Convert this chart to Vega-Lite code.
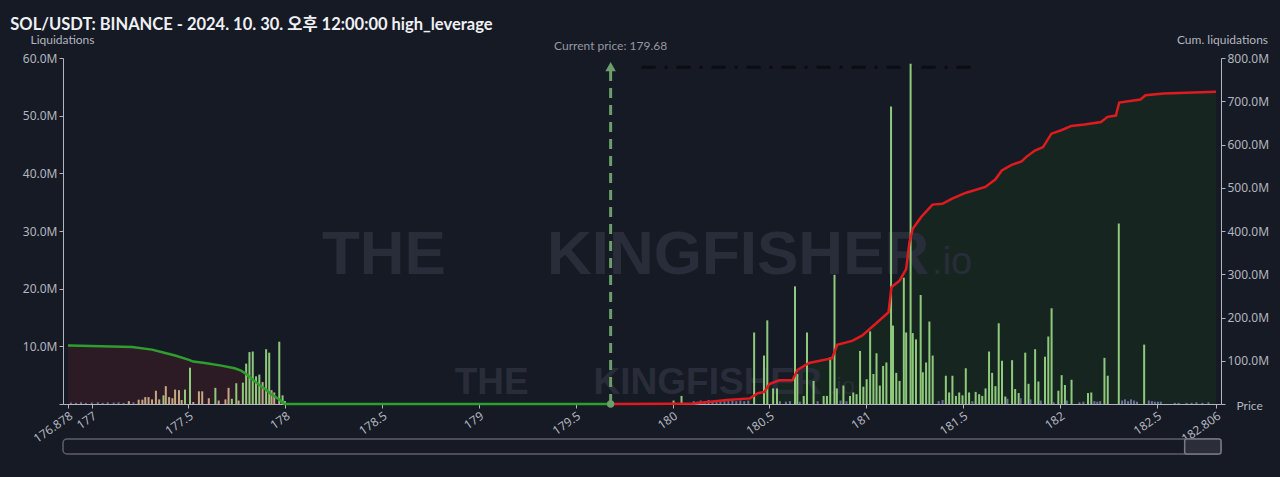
{
  "$schema": "https://vega.github.io/schema/vega-lite/v6.json",
  "background": "#161a25",
  "padding": {"left": 10, "top": 16, "right": 11, "bottom": 22},
  "title": {
    "text": "SOL/USDT: BINANCE - 2024. 10. 30. 오후 12:00:00 high_leverage",
    "anchor": "start", "frame": "bounds", "dx": -12, "offset": 0,
    "fontSize": 16.5, "fontWeight": "bold", "color": "#eef0f4",
    "font": "Lato, Noto Sans CJK KR"
  },
  "config": {
    "view": {"stroke": null},
    "font": "Noto Sans",
    "axis": {
      "domainColor": "#b2b5be", "tickColor": "#b2b5be", "labelColor": "#b2b5be", "titleColor": "#b2b5be",
      "labelFont": "Noto Sans", "titleFont": "Lato", "labelFontSize": 12, "titleFontSize": 12,
      "titleFontWeight": "normal", "grid": false, "tickSize": 4
    }
  },
  "datasets": {
    "wmBig": [{"p":178.189,"y":22.5,"t":"THE"},{"p":179.351,"y":22.5,"t":"KINGFISHER"}],
    "wmBigIo": [{"p":181.34,"y":22.5,"t":".io"}],
    "wmSmall": [{"p":178.875,"y":1.8,"t":"THE"},{"p":179.592,"y":1.8,"t":"KINGFISHER"}],
    "wmSmallIo": [{"p":180.81,"y":1.8,"t":".io"}],
    "darkDash": [{"p":179.84,"p2":181.58,"y":58.4}],
    "price": [{"p":179.68,"lo":0,"hi":772,"tip":780,"top":800,"t":"Current price: 179.68"}],
    "bars": [
      {"p":176.893,"v":0.25,"g":"P"},{"p":176.919,"v":0.2,"g":"P"},{"p":176.945,"v":0.3,"g":"P"},{"p":176.970,"v":0.2,"g":"P"},
      {"p":177.001,"v":0.25,"g":"P"},{"p":177.032,"v":0.3,"g":"P"},{"p":177.057,"v":0.2,"g":"P"},{"p":177.083,"v":0.3,"g":"P"},
      {"p":177.114,"v":0.25,"g":"P"},{"p":177.139,"v":0.3,"g":"P"},{"p":177.165,"v":0.2,"g":"P"},
      {"p":177.192,"v":0.5,"g":"T"},{"p":177.216,"v":0.3,"g":"P"},{"p":177.243,"v":0.75,"g":"T"},{"p":177.262,"v":0.75,"g":"T"},
      {"p":177.277,"v":1.2,"g":"T"},{"p":177.294,"v":1.2,"g":"T"},{"p":177.312,"v":0.8,"g":"T"},{"p":177.332,"v":2.3,"g":"T"},
      {"p":177.349,"v":0.8,"g":"T"},{"p":177.371,"v":1.5,"g":"G"},{"p":177.383,"v":3.1,"g":"T"},{"p":177.400,"v":1.2,"g":"T"},
      {"p":177.417,"v":1.0,"g":"T"},{"p":177.431,"v":2.5,"g":"T"},{"p":177.451,"v":2.4,"g":"T"},{"p":177.465,"v":0.7,"g":"T"},
      {"p":177.482,"v":2.5,"g":"G"},{"p":177.508,"v":6.3,"g":"G"},{"p":177.525,"v":0.35,"g":"T"},{"p":177.554,"v":2.2,"g":"T"},
      {"p":177.571,"v":2.2,"g":"T"},{"p":177.605,"v":1.0,"g":"T"},{"p":177.639,"v":2.8,"g":"G"},{"p":177.656,"v":0.6,"g":"T"},
      {"p":177.691,"v":0.8,"g":"T"},{"p":177.707,"v":2.8,"g":"T"},{"p":177.724,"v":0.9,"g":"G"},{"p":177.747,"v":3.6,"g":"G"},
      {"p":177.759,"v":0.6,"g":"T"},{"p":177.781,"v":3.7,"g":"G"},{"p":177.798,"v":7.0,"g":"G"},{"p":177.815,"v":9.0,"g":"G"},
      {"p":177.832,"v":9.1,"g":"G"},{"p":177.849,"v":4.8,"g":"G"},{"p":177.866,"v":5.1,"g":"G"},{"p":177.883,"v":3.8,"g":"T"},
      {"p":177.901,"v":9.5,"g":"G"},{"p":177.917,"v":8.9,"g":"G"},{"p":177.929,"v":2.4,"g":"T"},{"p":177.943,"v":2.0,"g":"T"},
      {"p":177.969,"v":10.8,"g":"G"},{"p":177.986,"v":1.5,"g":"G"},{"p":177.998,"v":0.5,"g":"G"},
      {"p":180.005,"v":0.6,"g":"G"},{"p":180.046,"v":1.4,"g":"G"},
      {"p":180.109,"v":0.5,"g":"P"},{"p":180.129,"v":0.4,"g":"P"},{"p":180.145,"v":0.6,"g":"P"},{"p":180.165,"v":0.5,"g":"P"},
      {"p":180.186,"v":0.7,"g":"P"},{"p":180.206,"v":0.5,"g":"P"},{"p":180.227,"v":0.6,"g":"P"},{"p":180.247,"v":0.4,"g":"P"},
      {"p":180.268,"v":0.6,"g":"P"},{"p":180.288,"v":0.5,"g":"P"},{"p":180.309,"v":0.7,"g":"P"},{"p":180.329,"v":0.5,"g":"P"},
      {"p":180.350,"v":0.6,"g":"P"},{"p":180.370,"v":0.5,"g":"P"},{"p":180.391,"v":0.6,"g":"P"},
      {"p":180.421,"v":12.4,"g":"G"},{"p":180.472,"v":8.4,"g":"G"},{"p":180.489,"v":14.5,"g":"G"},{"p":180.519,"v":2.7,"g":"G"},
      {"p":180.539,"v":2.7,"g":"G"},{"p":180.554,"v":0.5,"g":"P"},{"p":180.585,"v":0.4,"g":"P"},{"p":180.606,"v":0.5,"g":"P"},
      {"p":180.632,"v":20.4,"g":"G"},{"p":180.644,"v":5.2,"g":"G"},{"p":180.657,"v":0.4,"g":"P"},{"p":180.677,"v":1.4,"g":"G"},
      {"p":180.694,"v":12.4,"g":"G"},{"p":180.728,"v":4.0,"g":"G"},{"p":180.749,"v":0.5,"g":"P"},{"p":180.780,"v":1.4,"g":"G"},
      {"p":180.797,"v":1.4,"g":"G"},{"p":180.814,"v":8.1,"g":"G"},{"p":180.836,"v":22.4,"g":"G"},{"p":180.848,"v":2.7,"g":"G"},
      {"p":180.867,"v":0.6,"g":"P"},{"p":180.882,"v":3.2,"g":"G"},{"p":180.898,"v":0.5,"g":"P"},{"p":180.916,"v":1.4,"g":"G"},
      {"p":180.933,"v":2.0,"g":"G"},{"p":180.950,"v":1.7,"g":"G"},{"p":180.968,"v":9.2,"g":"G"},{"p":180.985,"v":3.0,"g":"G"},
      {"p":181.002,"v":4.3,"g":"G"},{"p":181.020,"v":12.6,"g":"G"},{"p":181.037,"v":5.2,"g":"G"},{"p":181.053,"v":8.8,"g":"G"},
      {"p":181.070,"v":3.2,"g":"G"},{"p":181.087,"v":6.6,"g":"G"},{"p":181.104,"v":7.2,"g":"G"},{"p":181.128,"v":51.6,"g":"G"},
      {"p":181.138,"v":13.6,"g":"G"},{"p":181.155,"v":5.4,"g":"G"},{"p":181.172,"v":4.0,"g":"G"},{"p":181.194,"v":21.9,"g":"G"},
      {"p":181.206,"v":12.4,"g":"G"},{"p":181.229,"v":59.0,"g":"G"},{"p":181.240,"v":12.3,"g":"G"},{"p":181.257,"v":11.2,"g":"G"},
      {"p":181.281,"v":18.9,"g":"G"},{"p":181.292,"v":5.5,"g":"G"},{"p":181.309,"v":7.2,"g":"G"},{"p":181.326,"v":14.3,"g":"G"},
      {"p":181.343,"v":8.4,"g":"G"},{"p":181.374,"v":0.5,"g":"P"},{"p":181.394,"v":0.7,"g":"P"},{"p":181.411,"v":4.9,"g":"G"},
      {"p":181.428,"v":2.0,"g":"G"},{"p":181.445,"v":4.9,"g":"G"},{"p":181.463,"v":1.4,"g":"G"},{"p":181.480,"v":2.0,"g":"G"},
      {"p":181.497,"v":1.5,"g":"G"},{"p":181.514,"v":6.2,"g":"G"},{"p":181.531,"v":2.0,"g":"G"},{"p":181.548,"v":0.5,"g":"P"},
      {"p":181.565,"v":2.1,"g":"G"},{"p":181.583,"v":1.7,"g":"G"},{"p":181.599,"v":1.4,"g":"G"},{"p":181.616,"v":2.7,"g":"G"},
      {"p":181.634,"v":9.1,"g":"G"},{"p":181.650,"v":5.4,"g":"G"},{"p":181.667,"v":3.1,"g":"G"},{"p":181.684,"v":14.0,"g":"G"},
      {"p":181.701,"v":7.5,"g":"G"},{"p":181.718,"v":1.3,"g":"G"},{"p":181.729,"v":0.9,"g":"P"},{"p":181.753,"v":7.6,"g":"G"},
      {"p":181.769,"v":2.6,"g":"G"},{"p":181.787,"v":1.9,"g":"G"},{"p":181.797,"v":1.0,"g":"P"},{"p":181.821,"v":8.9,"g":"G"},
      {"p":181.838,"v":3.5,"g":"G"},{"p":181.848,"v":0.8,"g":"P"},{"p":181.872,"v":9.5,"g":"G"},{"p":181.889,"v":3.9,"g":"G"},
      {"p":181.901,"v":0.6,"g":"P"},{"p":181.923,"v":8.2,"g":"G"},{"p":181.940,"v":11.7,"g":"G"},{"p":181.957,"v":16.6,"g":"G"},
      {"p":181.968,"v":0.3,"g":"P"},{"p":181.992,"v":2.3,"g":"G"},{"p":182.009,"v":5.0,"g":"G"},{"p":182.026,"v":3.3,"g":"G"},
      {"p":182.036,"v":0.6,"g":"P"},{"p":182.060,"v":4.2,"g":"G"},{"p":182.101,"v":0.3,"g":"P"},{"p":182.121,"v":0.4,"g":"P"},
      {"p":182.145,"v":1.9,"g":"G"},{"p":182.162,"v":2.0,"g":"G"},{"p":182.178,"v":0.5,"g":"P"},{"p":182.193,"v":0.4,"g":"P"},
      {"p":182.208,"v":0.5,"g":"P"},{"p":182.230,"v":8.0,"g":"G"},{"p":182.247,"v":4.9,"g":"G"},{"p":182.304,"v":31.3,"g":"G"},
      {"p":182.321,"v":0.6,"g":"P"},{"p":182.336,"v":0.8,"g":"P"},{"p":182.352,"v":0.5,"g":"P"},{"p":182.367,"v":0.8,"g":"P"},
      {"p":182.383,"v":0.6,"g":"P"},{"p":182.398,"v":0.4,"g":"P"},{"p":182.435,"v":10.3,"g":"G"},{"p":182.459,"v":0.6,"g":"P"},
      {"p":182.475,"v":0.5,"g":"P"},{"p":182.490,"v":0.4,"g":"P"},{"p":182.506,"v":0.4,"g":"P"},{"p":182.521,"v":0.4,"g":"P"},
      {"p":182.593,"v":0.2,"g":"P"},{"p":182.613,"v":0.2,"g":"P"},{"p":182.654,"v":0.2,"g":"P"},{"p":182.680,"v":0.2,"g":"P"},
      {"p":182.705,"v":0.3,"g":"P"},{"p":182.736,"v":0.2,"g":"P"},{"p":182.767,"v":0.3,"g":"P"}
    ],
    "cumL": [
      {"p":176.878,"c":135},{"p":176.885,"c":135},{"p":177.209,"c":132},{"p":177.312,"c":125.7},{"p":177.380,"c":118},
      {"p":177.431,"c":112},{"p":177.499,"c":102.5},{"p":177.525,"c":98},{"p":177.585,"c":95},{"p":177.670,"c":88.7},
      {"p":177.738,"c":82.6},{"p":177.772,"c":77},{"p":177.798,"c":69.4},{"p":177.824,"c":59.5},{"p":177.849,"c":50},
      {"p":177.875,"c":41},{"p":177.901,"c":33},{"p":177.926,"c":23},{"p":177.952,"c":15.4},{"p":177.977,"c":7.7},
      {"p":177.994,"c":0},{"p":179.68,"c":0}
    ],
    "cumR": [
      {"p":179.68,"c":0},{"p":180.0,"c":0.5},{"p":180.109,"c":1},{"p":180.28,"c":9},{"p":180.40,"c":13},{"p":180.44,"c":25},
      {"p":180.474,"c":28},{"p":180.500,"c":46},{"p":180.551,"c":55},{"p":180.619,"c":55},{"p":180.645,"c":79},{"p":180.705,"c":95},
      {"p":180.824,"c":106},{"p":180.850,"c":137},{"p":180.927,"c":146},{"p":180.978,"c":158},{"p":181.047,"c":185},
      {"p":181.115,"c":212},{"p":181.130,"c":270},{"p":181.172,"c":285},{"p":181.206,"c":312},{"p":181.223,"c":374},
      {"p":181.240,"c":405},{"p":181.283,"c":432},{"p":181.342,"c":461},{"p":181.393,"c":463},{"p":181.444,"c":475},
      {"p":181.512,"c":488},{"p":181.615,"c":502},{"p":181.666,"c":519},{"p":181.700,"c":540},{"p":181.751,"c":553},
      {"p":181.802,"c":561},{"p":181.828,"c":572},{"p":181.871,"c":586},{"p":181.913,"c":594},{"p":181.956,"c":625},
      {"p":182.007,"c":633},{"p":182.059,"c":643},{"p":182.127,"c":646},{"p":182.212,"c":652},{"p":182.246,"c":664},
      {"p":182.289,"c":667},{"p":182.306,"c":697},{"p":182.416,"c":704},{"p":182.442,"c":714},{"p":182.536,"c":718},
      {"p":182.806,"c":722}
    ],
    "track": [{"a":176.878,"b":182.806}],
    "handle": [{"a":182.62,"b":182.806}]
  },
  "bounds": "flush",
  "spacing": 35,
  "vconcat": [
    {
      "width": 1158,
      "height": 346,
      "encoding": {
        "x": {
          "field": "p", "type": "quantitative",
          "scale": {"domain": [176.878, 182.806], "nice": false, "zero": false},
          "axis": {
            "values": [176.878, 177, 177.5, 178, 178.5, 179, 179.5, 180, 180.5, 181, 181.5, 182, 182.5, 182.806],
            "format": ".3~f", "labelAngle": -35, "labelAlign": "right", "labelBaseline": "top",
            "labelOverlap": false, "labelFlush": false, "labelPadding": 2,
            "title": "Price", "titleX": 1173, "titleY": 1, "titleAlign": "left", "titleBaseline": "middle"
          }
        }
      },
      "layer": [
        {
          "layer": [
            {
              "data": {"name": "cumL"},
              "mark": {"type": "area", "color": "#2c1a25", "opacity": 1},
              "encoding": {"y": {"field": "c", "type": "quantitative"}}
            },
            {
              "data": {"name": "cumR"},
              "mark": {"type": "area", "color": "#172520", "opacity": 1},
              "encoding": {
                "y": {
                  "field": "c", "type": "quantitative",
                  "scale": {"domain": [0, 800], "nice": false},
                  "axis": {
                    "orient": "right",
                    "values": [0, 100, 200, 300, 400, 500, 600, 700, 800],
                    "labelExpr": "datum.value == 0 ? '' : format(datum.value, '.1f') + 'M'",
                    "title": "Cum. liquidations", "titleAngle": 0, "titleX": 1, "titleY": -19,
                    "titleAlign": "center", "titleBaseline": "middle"
                  }
                }
              }
            }
          ]
        },
        {
          "layer": [
            {
              "data": {"name": "bars"},
              "mark": {"type": "bar", "width": 2, "opacity": 0},
              "encoding": {
                "y": {
                  "field": "v", "type": "quantitative",
                  "scale": {"domain": [0, 60], "nice": false},
                  "axis": {
                    "orient": "left",
                    "values": [0, 10, 20, 30, 40, 50, 60],
                    "labelExpr": "datum.value == 0 ? '' : format(datum.value, '.1f') + 'M'",
                    "title": "Liquidations", "titleAngle": 0, "titleX": -1, "titleY": -19,
                    "titleAlign": "center", "titleBaseline": "middle"
                  }
                }
              }
            },
            {
              "data": {"name": "wmBig"},
              "mark": {"type": "text", "font": "Liberation Sans Narrow, Liberation Sans, Arial", "fontWeight": "bold", "fontSize": 62, "color": "#292d3a", "align": "left", "baseline": "alphabetic"},
              "encoding": {"y": {"field": "y", "type": "quantitative", "title": "Liquidations"}, "text": {"field": "t"}}
            },
            {
              "data": {"name": "wmBigIo"},
              "mark": {"type": "text", "font": "Liberation Sans", "fontWeight": "normal", "fontSize": 38, "color": "#292d3a", "align": "left", "baseline": "alphabetic"},
              "encoding": {"y": {"field": "y", "type": "quantitative", "title": "Liquidations"}, "text": {"field": "t"}}
            },
            {
              "data": {"name": "wmSmall"},
              "mark": {"type": "text", "font": "Liberation Sans Narrow, Liberation Sans, Arial", "fontWeight": "bold", "fontSize": 37, "color": "#292d3a", "align": "left", "baseline": "alphabetic"},
              "encoding": {"y": {"field": "y", "type": "quantitative", "title": "Liquidations"}, "text": {"field": "t"}}
            },
            {
              "data": {"name": "wmSmallIo"},
              "mark": {"type": "text", "font": "Liberation Sans", "fontWeight": "normal", "fontSize": 24, "color": "#292d3a", "align": "left", "baseline": "alphabetic"},
              "encoding": {"y": {"field": "y", "type": "quantitative", "title": "Liquidations"}, "text": {"field": "t"}}
            },
            {
              "data": {"name": "darkDash"},
              "mark": {"type": "rule", "color": "#0b0d13", "strokeWidth": 3, "strokeDash": [14, 9, 3, 9]},
              "encoding": {
                "x2": {"field": "p2"},
                "y": {"field": "y", "type": "quantitative", "title": "Liquidations"}
              }
            },
            {
              "data": {"name": "bars"},
              "mark": {"type": "bar", "width": 2},
              "encoding": {
                "y": {"field": "v", "type": "quantitative", "title": "Liquidations"},
                "color": {
                  "field": "g", "type": "nominal", "legend": null,
                  "scale": {"domain": ["G", "T", "P"], "range": ["#8fca7c", "#c4a884", "#6e6f99"]}
                }
              }
            }
          ]
        },
        {
          "layer": [
            {
              "data": {"name": "cumL"},
              "mark": {"type": "line", "color": "#2e9e2e", "strokeWidth": 2.5},
              "encoding": {"y": {"field": "c", "type": "quantitative", "scale": {"domain": [0, 800], "nice": false}, "axis": null}}
            },
            {
              "data": {"name": "cumR"},
              "mark": {"type": "line", "color": "#e01b1f", "strokeWidth": 2.5},
              "encoding": {"y": {"field": "c", "type": "quantitative", "axis": null}}
            },
            {
              "data": {"name": "price"},
              "mark": {"type": "rule", "color": "#6b9e6b", "strokeWidth": 3, "strokeDash": [10, 7]},
              "encoding": {
                "y": {"field": "lo", "type": "quantitative", "axis": null},
                "y2": {"field": "hi"}
              }
            },
            {
              "data": {"name": "price"},
              "mark": {"type": "point", "shape": "triangle-up", "filled": true, "color": "#6b9e6b", "size": 110, "opacity": 1},
              "encoding": {"y": {"field": "tip", "type": "quantitative", "axis": null}}
            },
            {
              "data": {"name": "price"},
              "mark": {"type": "point", "shape": "circle", "filled": true, "color": "#6b9e6b", "size": 55, "opacity": 1},
              "encoding": {"y": {"field": "lo", "type": "quantitative", "axis": null}}
            },
            {
              "data": {"name": "price"},
              "mark": {"type": "text", "color": "#9598a1", "fontSize": 12, "font": "Lato", "baseline": "middle", "align": "center", "dy": -12},
              "encoding": {"y": {"field": "top", "type": "quantitative", "axis": null}, "text": {"field": "t"}}
            }
          ]
        }
      ],
      "resolve": {"scale": {"y": "independent"}, "axis": {"y": "independent"}}
    },
    {
      "width": 1158,
      "height": 15,
      "layer": [
        {
          "data": {"name": "track"},
          "mark": {"type": "rect", "fill": "#161a25", "stroke": "#5d606b", "strokeWidth": 1.5, "cornerRadius": 4},
          "encoding": {
            "x": {"field": "a", "type": "quantitative", "scale": {"domain": [176.878, 182.806], "nice": false, "zero": false}, "axis": null},
            "x2": {"field": "b"}
          }
        },
        {
          "data": {"name": "handle"},
          "mark": {"type": "rect", "fill": "#2a2e39", "stroke": "#787b86", "strokeWidth": 1.5, "cornerRadius": 2},
          "encoding": {
            "x": {"field": "a", "type": "quantitative"},
            "x2": {"field": "b"}
          }
        }
      ]
    }
  ]
}
